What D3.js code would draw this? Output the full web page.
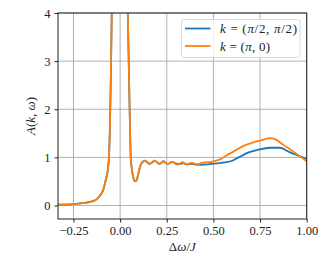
<!DOCTYPE html>
<html>
<head>
<meta charset="utf-8">
<script src="https://cdn.jsdelivr.net/npm/d3@7"></script>
<style>
  body { margin: 0; background: #fff; }
  svg { display: block; }
  text { font-family: "Liberation Serif", "DejaVu Serif", serif; fill: #222; }
</style>
</head>
<body>
<svg width="323" height="259"></svg>
<script>
// omega values and spectral weight
var xs = [-0.333, -0.25, -0.2, -0.155, -0.13, -0.118, -0.1, -0.09, -0.08, -0.07, -0.064, -0.06, -0.055, -0.05, -0.045,
    -0.035, -0.02, -0.005, 0.01, 0.025, 0.035, 0.041, 0.047, 0.052, 0.057, 0.065, 0.072, 0.08, 0.088, 0.095,
    0.105, 0.115, 0.125, 0.134, 0.145, 0.157, 0.17, 0.184, 0.197, 0.21, 0.222, 0.232, 0.243, 0.253, 0.267, 0.28];

var sharedA = [0.02, 0.03, 0.05, 0.08, 0.12, 0.16, 0.25, 0.33, 0.48, 0.65, 0.8, 1.0, 1.6, 2.6, 4.0,
    7, 10, 11, 9, 6.5, 4.8, 4.0, 2.8, 1.8, 1.0, 0.7, 0.56, 0.5, 0.52, 0.62,
    0.78, 0.88, 0.92, 0.93, 0.9, 0.865, 0.89, 0.93, 0.9, 0.865, 0.89, 0.92, 0.89, 0.865, 0.88, 0.905];

var xsOrange = [0.294, 0.307, 0.32, 0.334, 0.346, 0.357, 0.37, 0.384, 0.4, 0.414, 0.428, 0.441, 0.46, 0.48, 0.5,
    0.536, 0.57, 0.607, 0.661, 0.714, 0.759, 0.804, 0.83, 0.875, 0.929, 1.0];
var orangeA = [0.875, 0.85, 0.87, 0.9, 0.87, 0.85, 0.87, 0.89, 0.865, 0.85, 0.87, 0.89, 0.895, 0.9, 0.92,
    0.96, 1.04, 1.12, 1.24, 1.31, 1.36, 1.4, 1.38, 1.26, 1.12, 0.92];

var xsBlue = [0.3, 0.32, 0.34, 0.36, 0.38, 0.4, 0.43, 0.47, 0.5, 0.54, 0.571, 0.6, 0.625, 0.65, 0.679,
    0.741, 0.804, 0.857, 0.902, 0.946, 1.0];
var blueA = [0.87, 0.865, 0.88, 0.855, 0.865, 0.855, 0.845, 0.855, 0.87, 0.885, 0.9, 0.93, 0.98, 1.03, 1.09,
    1.16, 1.2, 1.2, 1.12, 1.05, 0.97];

var xTicks = [-0.25, 0, 0.25, 0.5, 0.75, 1.0];
var yTicks = [0, 1, 2, 3, 4];
var labels = ["k = (\u03c0/2, \u03c0/2)", "k = (\u03c0, 0)"];
var colors = ["#1f77b4", "#ff7f0e"];

var svg = d3.select("svg");
var margin = {left: 58, right: 16.3, top: 13, bottom: 40};
var width = 323 - margin.left - margin.right,
    height = 259 - margin.top - margin.bottom;

var x = d3.scaleLinear().domain([-0.333, 1.0]).range([margin.left, margin.left + width]);
var y = d3.scaleLinear().domain([-0.28, 4]).range([margin.top + height, margin.top]);

function series(a, b) {
    return a.map(function(d, i) { return {x: d, y: b[i]}; });
}
var blue = series(xs, sharedA).concat(series(xsBlue, blueA));
var orange = series(xs, sharedA).concat(series(xsOrange, orangeA));

svg.append("defs").append("clipPath").attr("id", "clip")
    .append("rect")
    .attr("x", margin.left).attr("y", margin.top)
    .attr("width", width).attr("height", height);

// grid
var grid = svg.append("g");
grid.selectAll(".gx").data(xTicks).enter().append("line")
    .attr("x1", function(d) { return x(d); }).attr("x2", function(d) { return x(d); })
    .attr("y1", margin.top).attr("y2", margin.top + height)
    .attr("stroke", "#a0a0a0").attr("stroke-width", 0.8);
grid.selectAll(".gy").data(yTicks).enter().append("line")
    .attr("y1", function(d) { return y(d); }).attr("y2", function(d) { return y(d); })
    .attr("x1", margin.left).attr("x2", margin.left + width)
    .attr("stroke", "#a0a0a0").attr("stroke-width", 0.8);

var line = d3.line()
    .x(function(d) { return x(d.x); })
    .y(function(d) { return y(d.y); })
    .curve(d3.curveMonotoneX);

var plot = svg.append("g").attr("clip-path", "url(#clip)");
plot.append("path").datum(blue)
    .attr("fill", "none").attr("stroke", colors[0]).attr("stroke-width", 1.8).attr("d", line);
plot.append("path").datum(orange)
    .attr("fill", "none").attr("stroke", colors[1]).attr("stroke-width", 1.8).attr("d", line);

// axes
var fmtX = function(d) { return d3.format(".2f")(d).replace("-", "\u2212"); };
svg.append("g")
    .attr("transform", "translate(0," + (margin.top + height) + ")")
    .call(d3.axisBottom(x).tickValues(xTicks).tickFormat(fmtX).tickSize(3.5).tickPadding(4))
    .call(function(g) {
        g.select(".domain").remove();
        g.selectAll("line").attr("stroke", "#222");
        g.selectAll("text").attr("font-size", 12.5).attr("font-family", "Liberation Serif");
    });
svg.append("g")
    .attr("transform", "translate(" + margin.left + ",0)")
    .call(d3.axisLeft(y).tickValues(yTicks).tickFormat(d3.format("d")).tickSize(3.5).tickPadding(4))
    .call(function(g) {
        g.select(".domain").remove();
        g.selectAll("line").attr("stroke", "#222");
        g.selectAll("text").attr("font-size", 12.5).attr("font-family", "Liberation Serif");
    });

svg.append("rect")
    .attr("x", margin.left).attr("y", margin.top)
    .attr("width", width).attr("height", height)
    .attr("fill", "none").attr("stroke", "#222").attr("stroke-width", 1);

// axis labels
var xl = svg.append("text")
    .attr("x", margin.left + width / 2).attr("y", 251)
    .attr("text-anchor", "middle").attr("font-size", 13);
xl.append("tspan").text("\u0394");
xl.append("tspan").attr("font-style", "italic").text("\u03c9");
xl.append("tspan").text("/");
xl.append("tspan").attr("font-style", "italic").text("J");

var yl = svg.append("text")
    .attr("transform", "translate(35," + (margin.top + height / 2) + ") rotate(-90)")
    .attr("text-anchor", "middle").attr("font-size", 13);
yl.append("tspan").attr("font-style", "italic").text("A");
yl.append("tspan").text("(");
yl.append("tspan").attr("font-style", "italic").text("k");
yl.append("tspan").text(", ");
yl.append("tspan").attr("font-style", "italic").text("\u03c9");
yl.append("tspan").text(")");

// legend
var leg = svg.append("g");
leg.append("rect")
    .attr("x", 181.5).attr("y", 19.5).attr("width", 118.5).attr("height", 38)
    .attr("rx", 2.5).attr("fill", "#fff").attr("fill-opacity", 0.8)
    .attr("stroke", "#d0d0d0").attr("stroke-width", 0.8);
var rows = leg.selectAll(".row").data(labels).enter().append("g")
    .attr("transform", function(d, i) { return "translate(185," + (28.5 + i * 17.5) + ")"; });
rows.append("line")
    .attr("x1", 0).attr("x2", 25.5)
    .attr("stroke", function(d, i) { return colors[i]; }).attr("stroke-width", 1.8);
var legLen = [77, 50];
rows.each(function(d, i) {
    var t = d3.select(this).append("text").attr("x", 35).attr("y", 4.5).attr("font-size", 13)
        .attr("textLength", legLen[i]).attr("lengthAdjust", "spacing");
    t.append("tspan").attr("font-style", "italic").text("k");
    t.append("tspan").text(" = (");
    t.append("tspan").attr("font-style", "italic").text("\u03c0");
    if (i === 0) {
        t.append("tspan").text("/2, ");
        t.append("tspan").attr("font-style", "italic").text("\u03c0");
        t.append("tspan").text("/2)");
    } else {
        t.append("tspan").text(", 0)");
    }
});
</script>
</body>
</html>
